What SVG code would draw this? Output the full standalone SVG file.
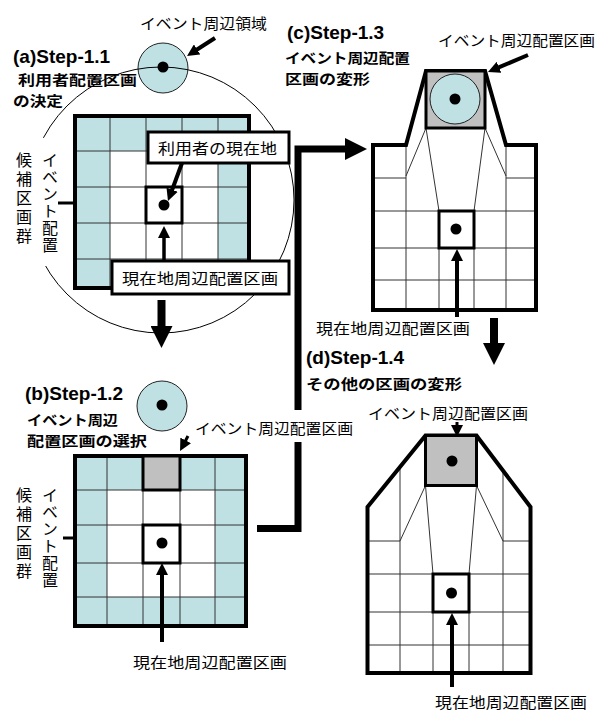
<svg xmlns="http://www.w3.org/2000/svg" width="609" height="713" viewBox="0 0 609 713">
<style>
.t{font-family:"Liberation Sans",Arial,sans-serif;font-weight:bold;font-size:19px;fill:#000}
.jb{font-family:"Noto Sans CJK JP","Noto Sans",sans-serif;font-weight:bold;font-size:14px;fill:#000}
.j{font-family:"Noto Sans CJK JP","Noto Sans",sans-serif;font-size:15px;fill:#000}
.jv{font-family:"Noto Sans CJK JP","Noto Sans",sans-serif;font-size:16px;fill:#000;writing-mode:vertical-rl}
.cy{fill:#bfe1e4}
.gl{fill:none;stroke:#333;stroke-width:1}
.ob{fill:none;stroke:#000;stroke-width:4;stroke-linejoin:miter}
.cc{fill:none;stroke:#000;stroke-width:3}
.gr{fill:#c0c0c0;stroke:#000;stroke-width:3}
.ev{fill:#bfe1e4;stroke:#222;stroke-width:1}
.box{fill:#fff;stroke:#000;stroke-width:3}
.ar{fill:none;stroke:#000;stroke-width:4;marker-end:url(#ah)}
.ar3{fill:none;stroke:#000;stroke-width:3;marker-end:url(#ah)}
.big{fill:none;stroke:#000;stroke-width:8;stroke-linejoin:miter;marker-end:url(#bh)}
</style>
<defs>
<marker id="ah" viewBox="0 0 12 12" refX="1" refY="6" markerWidth="12" markerHeight="12" markerUnits="userSpaceOnUse" orient="auto"><path d="M0,0 L12,6 L0,12 z" fill="#000"/></marker>
<marker id="bh" viewBox="0 0 22 22" refX="1" refY="11" markerWidth="22" markerHeight="22" markerUnits="userSpaceOnUse" orient="auto"><path d="M0,0 L22,11 L0,22 z" fill="#000"/></marker>
</defs>
<rect width="609" height="713" fill="#fff"/>

<g id="connectors">
<path class="big" d="M161.5,300 V327"/>
<path class="big" d="M494,318 V344"/>
<path class="big" style="stroke-width:7" d="M257,528.5 H298 V149 H346"/>
</g>

<g id="node-a">
<text class="t" x="13" y="63">(a)Step-1.1</text>
<text class="jb" x="18" y="85" textLength="119" lengthAdjust="spacingAndGlyphs">利用者配置区画</text>
<text class="jb" x="13" y="106" textLength="50" lengthAdjust="spacingAndGlyphs">の決定</text>
<text class="j" x="140" y="29" textLength="127" lengthAdjust="spacingAndGlyphs">イベント周辺領域</text>
<path class="ar" d="M215,38 L196.3,50"/>
<circle class="ev" cx="163" cy="68" r="25"/>
<circle cx="161" cy="200" r="133" fill="none" stroke="#000" stroke-width="1"/>
<circle cx="163" cy="67" r="5.5" fill="#000"/>
<rect x="10" y="138" width="52" height="128" fill="#fff"/>
<text class="jv" x="24" y="152" style="letter-spacing:3px">候補区画群</text>
<text class="jv" x="50" y="152" style="letter-spacing:1px">イベント配置</text>
<path class="ar3" d="M58,203 H81"/>
<rect class="cy" x="75" y="116" width="174" height="172"/>
<rect x="110" y="151" width="108" height="108" fill="#fff"/>
<path class="gl" d="M110,116 V288 M146,116 V288 M182,116 V288 M218,116 V288 M75,151 H249 M75,187 H249 M75,223 H249 M75,259 H249"/>
<rect class="ob" x="75" y="116" width="174" height="172"/>
<rect class="cc" x="146" y="187" width="36" height="36"/>
<circle cx="164" cy="205" r="5.5" fill="#000"/>
<rect class="box" x="148" y="132" width="141" height="31"/>
<text class="j" x="158" y="154" textLength="119" lengthAdjust="spacingAndGlyphs">利用者の現在地</text>
<path class="ar" d="M182,163 L171.8,190.7"/>
<rect class="box" x="112" y="261" width="177" height="33"/>
<text class="j" x="122" y="284" textLength="156" lengthAdjust="spacingAndGlyphs">現在地周辺配置区画</text>
<path class="ar" style="stroke-width:3.5" d="M164,261 V237"/>
</g>

<g id="node-b">
<text class="t" x="25" y="400">(b)Step-1.2</text>
<text class="jb" x="27" y="425" textLength="91" lengthAdjust="spacingAndGlyphs">イベント周辺</text>
<text class="jb" x="27" y="446" textLength="120" lengthAdjust="spacingAndGlyphs">配置区画の選択</text>
<circle class="ev" cx="162" cy="406" r="25"/>
<circle cx="162" cy="405" r="5.5" fill="#000"/>
<rect x="192" y="410" width="166" height="32" fill="#fff"/>
<text class="j" x="195" y="434" textLength="158" lengthAdjust="spacingAndGlyphs">イベント周辺配置区画</text>
<path class="ar3" d="M188,436 L185.2,441.3"/>
<text class="jv" x="24" y="487" style="letter-spacing:3px">候補区画群</text>
<text class="jv" x="50" y="487" style="letter-spacing:1px">イベント配置</text>
<path class="ar3" d="M63,538 H84"/>
<rect class="cy" x="75" y="456" width="171" height="170"/>
<rect x="107" y="490" width="108" height="107" fill="#fff"/>
<path class="gl" d="M107,456 V626 M143,456 V626 M180,456 V626 M215,456 V626 M75,490 H246 M75,525 H246 M75,563 H246 M75,597 H246"/>
<rect class="ob" x="75" y="456" width="171" height="170"/>
<rect class="gr" x="143" y="456" width="37" height="34"/>
<rect class="cc" x="143" y="525" width="37" height="38"/>
<circle cx="162" cy="543" r="5.5" fill="#000"/>
<path class="ar" d="M162,642 V574"/>
<text class="j" x="133" y="668" textLength="154" lengthAdjust="spacingAndGlyphs">現在地周辺配置区画</text>
</g>

<g id="node-c">
<text class="t" x="287" y="39">(c)Step-1.3</text>
<text class="jb" x="285" y="63" textLength="125" lengthAdjust="spacingAndGlyphs">イベント周辺配置</text>
<text class="jb" x="285" y="84" textLength="85" lengthAdjust="spacingAndGlyphs">区画の変形</text>
<text class="j" x="438" y="46" textLength="157" lengthAdjust="spacingAndGlyphs">イベント周辺配置区画</text>
<path class="ar" d="M528,55 L498.1,67.7"/>
<polygon points="426,71 406,145 373,145 373,310 536,310 536,145 506,145 485,71" fill="#fff"/>
<path class="gl" d="M406,145 V310 M506,145 V310 M439,211 V310 M474,211 V310 M373,178 H406 M506,178 H536 M373,211 H536 M373,248 H536 M373,280 H536 M426,128 L406,176 M426,128 L439,211 M485,128 L474,211 M485,128 L506,176"/>
<polygon class="ob" points="426,71 406,145 373,145 373,310 536,310 536,145 506,145 485,71"/>
<rect class="gr" x="426" y="71" width="59" height="57"/>
<circle class="ev" cx="455" cy="99" r="25"/>
<circle cx="455" cy="99" r="5.5" fill="#000"/>
<rect class="cc" x="439" y="211" width="35" height="37"/>
<circle cx="456" cy="229" r="5.5" fill="#000"/>
<path class="ar" d="M457,317 V260"/>
<text class="j" x="316" y="334" textLength="154" lengthAdjust="spacingAndGlyphs">現在地周辺配置区画</text>
</g>

<g id="node-d">
<text class="t" x="306" y="364">(d)Step-1.4</text>
<text class="jb" x="306" y="389" textLength="156" lengthAdjust="spacingAndGlyphs">その他の区画の変形</text>
<text class="j" x="368" y="419" textLength="160" lengthAdjust="spacingAndGlyphs">イベント周辺配置区画</text>
<path class="ar3" d="M457,422 V426"/>
<polygon points="425.5,435.5 367.5,507 367.5,673 530.5,673 530.5,507 476.5,435.5" fill="#fff"/>
<path class="gl" d="M400,467 V673 M503,470 V673 M433,574 V673 M469,574 V673 M368,541 H400 M503,541 H530 M368,574 H530 M368,612 H530 M368,645 H530 M425.5,485.5 L400,541 M425.5,485.5 L433,574 M476.5,485.5 L469,574 M476.5,485.5 L503,541"/>
<polygon class="ob" points="425.5,435.5 367.5,507 367.5,673 530.5,673 530.5,507 476.5,435.5"/>
<rect class="gr" x="425.5" y="435.5" width="51" height="50"/>
<circle cx="452" cy="461" r="5.5" fill="#000"/>
<rect class="cc" x="433" y="574" width="36" height="38"/>
<circle cx="451.5" cy="593" r="5.5" fill="#000"/>
<path class="ar" d="M452,687 V624"/>
<text class="j" x="435" y="708" textLength="152" lengthAdjust="spacingAndGlyphs">現在地周辺配置区画</text>
</g>
</svg>
